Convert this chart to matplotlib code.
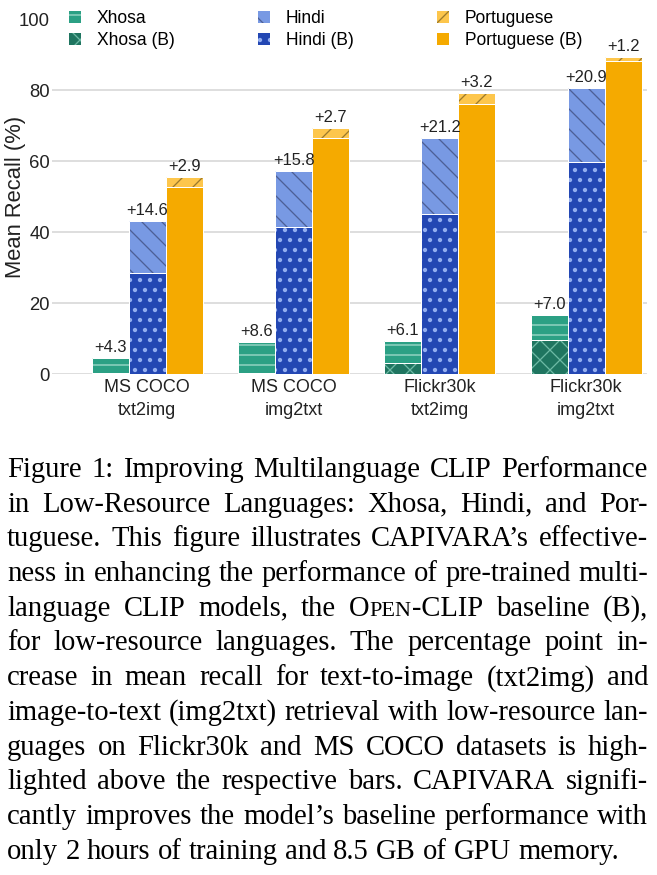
import matplotlib
matplotlib.use('Agg')
import matplotlib.pyplot as plt
import matplotlib.hatch as mhatch
import numpy as np

# rendering at 60 dpi makes the hatch patterns about as dense as in the original
DPI = 60
W, H = 657, 875
PT = 72 / DPI  # points per pixel

# data (mean recall, %)
datasets = ['MS COCO\ntxt2img', 'MS COCO\nimg2txt', 'Flickr30k\ntxt2img', 'Flickr30k\nimg2txt']
xhosa_base = [0.2, 0.4, 3.2, 9.7]
xhosa_gain = [4.3, 8.6, 6.1, 7.0]
hindi_base = [28.5, 41.4, 45.2, 59.7]
hindi_gain = [14.6, 15.8, 21.2, 20.9]
port_base = [52.6, 66.6, 76.0, 88.1]
port_gain = [2.9, 2.7, 3.2, 1.2]

caption = [
    "Figure 1: Improving Multilanguage CLIP Performance",
    "in Low-Resource Languages: Xhosa, Hindi, and Por-",
    "tuguese. This figure illustrates CAPIVARA\u2019s effective-",
    "ness in enhancing the performance of pre-trained multi-",
    "language CLIP models, the OPEN-CLIP baseline (B),",
    "for low-resource languages. The percentage point in-",
    "crease in mean recall for text-to-image (txt2img) and",
    "image-to-text (img2txt) retrieval with low-resource lan-",
    "guages on Flickr30k and MS COCO datasets is high-",
    "lighted above the respective bars. CAPIVARA signifi-",
    "cantly improves the model\u2019s baseline performance with",
    "only 2 hours of training and 8.5 GB of GPU memory.",
]

plt.rcParams['font.family'] = 'Liberation Sans'
plt.rcParams['hatch.linewidth'] = 1.3 * PT
mhatch.SmallFilledCircles.size = 0.15

fig = plt.figure(figsize=(W / DPI, H / DPI), dpi=DPI)
ax = fig.add_axes([52 / W, 1 - 374 / H, 595 / W, 355 / H])

x = np.arange(len(datasets))
bar_w = 0.253

series = [
    # name, base, gain, offset, (face, hatch colour, hatch) for base / gain
    ('Xhosa', xhosa_base, xhosa_gain, -1, ('#1f7560', '#6cb9a4', 'x'), ('#2ba084', '#a3dccb', '-')),
    ('Hindi', hindi_base, hindi_gain, 0, ('#2347b3', '#93aef0', '.'), ('#7899e3', '#4d5f95', '\\')),
    ('Portuguese', port_base, port_gain, 1, ('#f5aa00', '#f5aa00', ''), ('#fdc64c', '#9c7a2c', '/')),
]

handles = []
for name, base, gain, off, bcol, gcol in series:
    pos = x + off * bar_w
    base = np.array(base)
    gain = np.array(gain)
    hb = ax.bar(pos, base, bar_w, color=bcol[0], edgecolor=bcol[1], hatch=bcol[2],
                linewidth=0, label=name + ' (B)')
    hg = ax.bar(pos, gain, bar_w, bottom=base, color=gcol[0], edgecolor=gcol[1],
                hatch=gcol[2], linewidth=0, label=name)
    # thin white outline around the segments
    ax.bar(pos, base, bar_w, fill=False, edgecolor='white', linewidth=1.0 * PT)
    ax.bar(pos, gain, bar_w, bottom=base, fill=False, edgecolor='white', linewidth=1.0 * PT)
    for p, b, g in zip(pos, base, gain):
        ax.annotate(f'+{g:.1f}', (p, b + g), xytext=(0, 3 * PT), textcoords='offset points',
                    ha='center', va='bottom', fontsize=16.5 * PT, color='#222222')
    handles.append((hg, hb))

ax.set_xlim(-0.652, 3.416)
ax.set_ylim(0, 100)
ax.set_yticks([0, 20, 40, 60, 80, 100])
ax.set_xticks(x)
ax.set_xticklabels(datasets, fontsize=18 * PT, linespacing=1.45, color='#222222')
ax.tick_params(axis='y', length=0, pad=2 * PT, labelsize=18.5 * PT, labelcolor='#222222')
ax.tick_params(axis='x', length=0, pad=5 * PT)
ax.grid(axis='y', color='#d6d6d6', linewidth=1.6 * PT)
ax.get_ygridlines()[-1].set_visible(False)
ax.set_axisbelow(True)
for s in ax.spines.values():
    s.set_visible(False)
ax.set_ylabel('Mean Recall (%)', fontsize=22 * PT, color='#222222')
ax.yaxis.set_label_coords(-0.044, 0.5)

leg_handles = [handles[0][0], handles[0][1], handles[1][0], handles[1][1], handles[2][0], handles[2][1]]
leg_labels = ['Xhosa', 'Xhosa (B)', 'Hindi', 'Hindi (B)', 'Portuguese', 'Portuguese (B)']
ax.legend(leg_handles, leg_labels, loc='upper left', bbox_to_anchor=(69 / W, 1 - 10 / H),
          bbox_transform=fig.transFigure, ncol=3, frameon=False, fontsize=17.5 * PT,
          handlelength=0.7, handleheight=0.7, handletextpad=0.9, columnspacing=4.75,
          borderpad=0, borderaxespad=0, labelspacing=0.28)

# caption, justified line by line like the LaTeX source
renderer = fig.canvas.get_renderer()
CAP_PX = 28.6
cap_fs = CAP_PX * PT
x_left, x_right = 7, 648
for i, line in enumerate(caption):
    y = 1 - (477 + i * 34.7) / H
    words = line.split()
    pieces = []
    total = 0
    for w in words:
        if w == 'OPEN-CLIP':
            segs = [('O', 1.0), ('PEN', 0.78), ('-CLIP', 1.0)]
        else:
            segs = [(w, 1.0)]
        ts = [fig.text(0, y, s, fontsize=cap_fs * k, family='Liberation Serif',
                       va='baseline', ha='left', color='black') for s, k in segs]
        ws = [t.get_window_extent(renderer).width for t in ts]
        pieces.append((ts, ws))
        total += sum(ws)
    if i < len(caption) - 1:
        gap = (x_right - x_left - total) / (len(words) - 1)
    else:
        gap = 0.25 * CAP_PX
    xp = x_left
    for ts, ws in pieces:
        for t, w in zip(ts, ws):
            t.set_x(xp / W)
            xp += w
        xp += gap

fig.savefig('out.png', dpi=DPI)
